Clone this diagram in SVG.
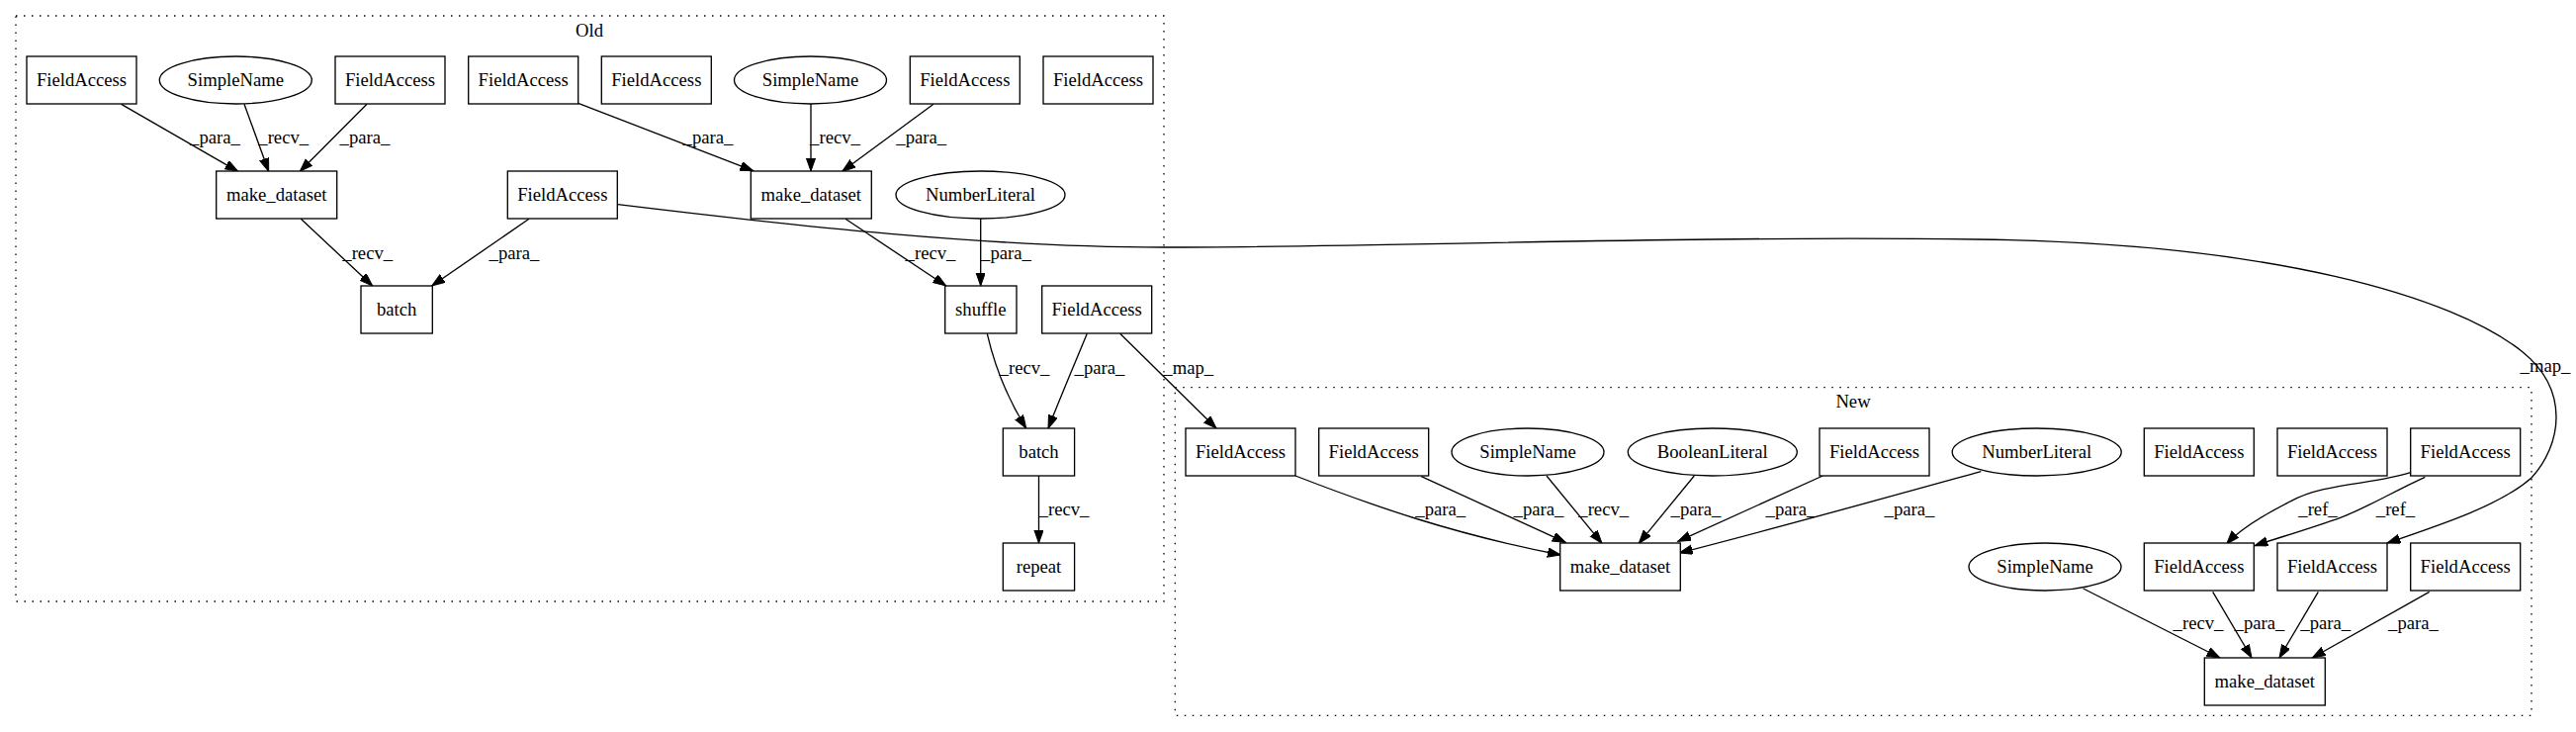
<svg xmlns="http://www.w3.org/2000/svg" width="2605" height="740" viewBox="0 0 2605 740">
<style>
text{font-family:"Liberation Serif","Times New Roman",serif;font-size:18.67px;fill:#000;text-anchor:middle}
.n rect,.n ellipse{fill:#fff;stroke:#000;stroke-width:1.33}
.cl{fill:none;stroke:#000;stroke-width:1.33;stroke-dasharray:1.5,6.5}
.e path{fill:none;stroke:#000;stroke-width:1.33;marker-end:url(#ah)}
</style>
<defs>
<marker id="ah" markerUnits="userSpaceOnUse" markerWidth="15" markerHeight="11" refX="13.3" refY="4.7" orient="auto" viewBox="0 0 15 11">
<path d="M0,0 L13.3,4.7 L0,9.4 z" fill="#000" stroke="#000" stroke-width="1"/>
</marker>
</defs>
<rect width="2605" height="740" fill="#fff"/>
<g id="cluster_old"><rect class="cl" x="16" y="16" width="1161" height="592"/><text x="596" y="37">Old</text></g>
<g id="cluster_new"><rect class="cl" x="1188.3" y="391.7" width="1371.7" height="331.6"/><text x="1874" y="412">New</text></g>

<g id="edges" class="e">
<path d="M122.7,105.3 L240.7,173.3"/>
<path d="M247,105.3 L271.7,173.3"/>
<path d="M371,105.3 L303.3,173.3"/>
<path d="M304.3,221.3 L376.7,289"/>
<path d="M535,221.3 L436.7,289"/>
<path d="M584.7,104.3 L761.7,172.7"/>
<path d="M820,105 L820,173"/>
<path d="M944,105.3 L851.7,173.3"/>
<path d="M855,221.3 L956.7,289"/>
<path d="M991.7,221 L991.7,289"/>
<path d="M998.3,337.3 C1004,362 1014,395 1037.7,433"/>
<path d="M1099.3,337.3 C1090,360 1075,395 1060,433"/>
<path d="M1132.7,337.3 L1230,433"/>
<path d="M1050.5,481 L1050.5,549"/>
<path d="M624.7,206.7 C800,228 1000,250 1177,250 C1400,250 1700,238 2000,242 C2300,246 2480,300 2550,355 C2600,395 2590,450 2560,483 C2530,510 2470,530 2414,549"/>
<path d="M1310,481 C1390,512 1470,540 1578.3,561"/>
<path d="M1437.3,481.7 L1583.3,548.3"/>
<path d="M1564,481 L1620,549.3"/>
<path d="M1713.3,481 L1657.3,549.3"/>
<path d="M1843.3,481 C1790,505 1740,528 1696.7,547.3"/>
<path d="M2003.3,476.7 C1900,505 1800,533 1698.3,559"/>
<path d="M2437.7,477.7 C2400,490 2350,488 2316.7,506.7 C2290,520 2265,535 2251.7,550"/>
<path d="M2452.3,482.3 C2420,497 2390,515 2366.7,523.3 C2340,533 2300,545 2280,551.7"/>
<path d="M2106.7,595 L2245,665"/>
<path d="M2237.7,598.3 L2277,665"/>
<path d="M2344.3,598.3 L2305,665"/>
<path d="M2456.7,598.3 L2338.3,665"/>
</g>
<g id="edge_labels">
<text x="217.5" y="145">_para_</text>
<text x="286.7" y="145">_recv_</text>
<text x="369" y="145">_para_</text>
<text x="371.7" y="262">_recv_</text>
<text x="520" y="262">_para_</text>
<text x="716" y="145">_para_</text>
<text x="844.5" y="145">_recv_</text>
<text x="931.7" y="145">_para_</text>
<text x="941" y="262">_recv_</text>
<text x="1017.5" y="262">_para_</text>
<text x="1036" y="378">_recv_</text>
<text x="1112" y="378">_para_</text>
<text x="1201.7" y="378">_map_</text>
<text x="1076" y="521">_recv_</text>
<text x="2574" y="376">_map_</text>
<text x="1456.7" y="521">_para_</text>
<text x="1556" y="521">_para_</text>
<text x="1621.7" y="521">_recv_</text>
<text x="1715" y="521">_para_</text>
<text x="1811" y="521">_para_</text>
<text x="1931" y="521">_para_</text>
<text x="2344" y="521">_ref_</text>
<text x="2422.5" y="521">_ref_</text>
<text x="2223" y="636">_recv_</text>
<text x="2285" y="636">_para_</text>
<text x="2351.7" y="636">_para_</text>
<text x="2440.5" y="636">_para_</text>
</g>

<g id="o_fa1" class="n"><rect x="27" y="57" width="111" height="48"/><text x="82.5" y="87">FieldAccess</text></g>
<g id="o_sn1" class="n"><ellipse cx="238.3" cy="81" rx="77" ry="24"/><text x="238.3" y="87">SimpleName</text></g>
<g id="o_fa2" class="n"><rect x="339" y="57" width="111" height="48"/><text x="394.5" y="87">FieldAccess</text></g>
<g id="o_fa3" class="n"><rect x="473.7" y="57" width="111" height="48"/><text x="529.2" y="87">FieldAccess</text></g>
<g id="o_fa4" class="n"><rect x="608.3" y="57" width="111" height="48"/><text x="663.8" y="87">FieldAccess</text></g>
<g id="o_sn2" class="n"><ellipse cx="819.5" cy="81" rx="77" ry="24"/><text x="819.5" y="87">SimpleName</text></g>
<g id="o_fa5" class="n"><rect x="920.3" y="57" width="111" height="48"/><text x="975.8" y="87">FieldAccess</text></g>
<g id="o_fa6" class="n"><rect x="1055" y="57" width="111" height="48"/><text x="1110.5" y="87">FieldAccess</text></g>
<g id="o_md1" class="n"><rect x="218.7" y="173" width="122" height="48"/><text x="279.7" y="203">make_dataset</text></g>
<g id="o_fa7" class="n"><rect x="513.3" y="173" width="111" height="48"/><text x="568.8" y="203">FieldAccess</text></g>
<g id="o_md2" class="n"><rect x="759.3" y="173" width="122" height="48"/><text x="820.3" y="203">make_dataset</text></g>
<g id="o_nl" class="n"><ellipse cx="991.5" cy="197" rx="85.5" ry="24"/><text x="991.5" y="203">NumberLiteral</text></g>
<g id="o_batch1" class="n"><rect x="365" y="289" width="72.3" height="48"/><text x="401.2" y="319">batch</text></g>
<g id="o_shuffle" class="n"><rect x="955.7" y="289" width="72.3" height="48"/><text x="991.8" y="319">shuffle</text></g>
<g id="o_fa8" class="n"><rect x="1053.7" y="289" width="111" height="48"/><text x="1109.2" y="319">FieldAccess</text></g>
<g id="o_batch2" class="n"><rect x="1014.3" y="433" width="72.3" height="48"/><text x="1050.5" y="463">batch</text></g>
<g id="o_repeat" class="n"><rect x="1014.3" y="549" width="72.3" height="48"/><text x="1050.5" y="579">repeat</text></g>

<g id="n_fa1" class="n"><rect x="1199" y="433" width="111" height="48"/><text x="1254.5" y="463">FieldAccess</text></g>
<g id="n_fa2" class="n"><rect x="1333.7" y="433" width="111" height="48"/><text x="1389.2" y="463">FieldAccess</text></g>
<g id="n_sn1" class="n"><ellipse cx="1545" cy="457" rx="77" ry="24"/><text x="1545" y="463">SimpleName</text></g>
<g id="n_bl" class="n"><ellipse cx="1731.8" cy="457" rx="85.5" ry="24"/><text x="1731.8" y="463">BooleanLiteral</text></g>
<g id="n_fa3" class="n"><rect x="1840" y="433" width="111" height="48"/><text x="1895.5" y="463">FieldAccess</text></g>
<g id="n_nl" class="n"><ellipse cx="2059.7" cy="457" rx="85.5" ry="24"/><text x="2059.7" y="463">NumberLiteral</text></g>
<g id="n_fa4" class="n"><rect x="2168.3" y="433" width="111" height="48"/><text x="2223.8" y="463">FieldAccess</text></g>
<g id="n_fa5" class="n"><rect x="2303" y="433" width="111" height="48"/><text x="2358.5" y="463">FieldAccess</text></g>
<g id="n_fa6" class="n"><rect x="2437.7" y="433" width="111" height="48"/><text x="2493.2" y="463">FieldAccess</text></g>
<g id="n_md1" class="n"><rect x="1577.7" y="549" width="121.6" height="48"/><text x="1638.5" y="579">make_dataset</text></g>
<g id="n_sn2" class="n"><ellipse cx="2068" cy="573" rx="77" ry="24"/><text x="2068" y="579">SimpleName</text></g>
<g id="n_fa7" class="n"><rect x="2168.3" y="549" width="111" height="48"/><text x="2223.8" y="579">FieldAccess</text></g>
<g id="n_fa8" class="n"><rect x="2303" y="549" width="111" height="48"/><text x="2358.5" y="579">FieldAccess</text></g>
<g id="n_fa9" class="n"><rect x="2437.7" y="549" width="111" height="48"/><text x="2493.2" y="579">FieldAccess</text></g>
<g id="n_md2" class="n"><rect x="2229.3" y="665" width="122" height="48"/><text x="2290.3" y="695">make_dataset</text></g>
</svg>
